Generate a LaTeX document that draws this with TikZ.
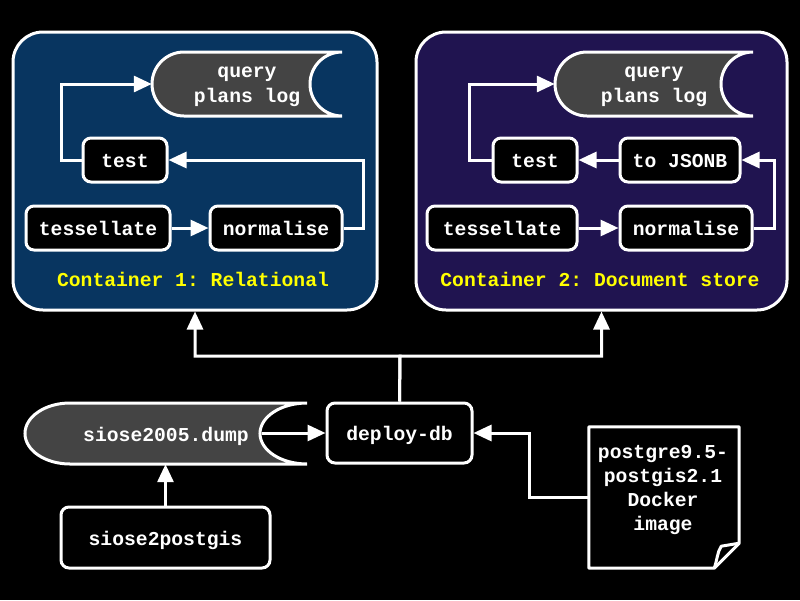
\documentclass[tikz,border=0pt]{standalone}
\usepackage{fontspec}
\newfontfamily\cf{Liberation Mono}
\usetikzlibrary{arrows.meta,calc}
\definecolor{cone}{RGB}{8,53,96}
\definecolor{ctwo}{RGB}{32,20,80}
\definecolor{loggray}{RGB}{68,68,68}
\definecolor{ylw}{RGB}{255,255,0}
\frenchspacing
\tikzset{
  every node/.style={font=\cf\bfseries\fontsize{19.7}{24.5}\selectfont, text=white, inner sep=0pt},
  container/.style={draw=white, line width=3pt, rounded corners=30pt},
  oneline/.style={text height=15.5pt, text depth=0pt},
  stepbox/.style={oneline, draw=white, fill=black, line width=3pt, rounded corners=8pt, minimum height=44pt},
  lbl/.style={text=ylw},
  conn/.style={draw=white, line width=3pt},
  arr/.style={conn, -{Triangle[length=18pt,width=16pt]}},
  logshape/.style={draw=white, fill=loggray, line width=3pt},
}
\begin{document}
\begin{tikzpicture}[x=1pt,y=-1pt]
\fill[black] (0,0) rectangle (800,600);
\useasboundingbox (0,0) rectangle (800,600);

% containers
\node[container, fill=cone, minimum width=364pt, minimum height=278pt] (c1) at (195,171) {};
\node[container, fill=ctwo, minimum width=371pt, minimum height=278pt] (c2) at (601.5,171) {};
\node[lbl] (l1) at (193,279) {Container 1: Relational};
\node[lbl] (l2) at (600,279) {Container 2: Document store};

% log shapes (container 1)
\draw[logshape] (342,52) -- (184,52) arc[start angle=270, end angle=90, x radius=32, y radius=32]
  -- (342,116) arc[start angle=90, end angle=270, x radius=32, y radius=32];
\node[minimum width=190pt, minimum height=64pt] (q1) at (247,84) {};
\node[align=center] (q1t) at (247,87) {query\\plans log};
% log shape (container 2)
\draw[logshape] (753,52) -- (587,52) arc[start angle=270, end angle=90, x radius=32, y radius=32]
  -- (753,116) arc[start angle=90, end angle=270, x radius=32, y radius=32];
\node[minimum width=198pt, minimum height=64pt] (q2) at (654,84) {};
\node[align=center] (q2t) at (654,87) {query\\plans log};

% container 1 steps
\node[stepbox, minimum width=84pt] (test1) at (125,160) {test};
\node[stepbox, minimum width=144pt] (tess1) at (98,228) {tessellate};
\node[stepbox, minimum width=132pt] (norm1) at (276,228) {normalise};
\draw[arr] (tess1) -- (norm1);
\draw[arr] (norm1.east) -- ++(20,0) |- (test1.east);
\draw[arr] (test1.west) -- ++(-20,0) |- (q1.west);

% container 2 steps
\node[stepbox, minimum width=84pt] (test2) at (535,160) {test};
\node[stepbox, minimum width=120pt] (json2) at (680,160) {to JSONB};
\node[stepbox, minimum width=150pt] (tess2) at (502,228) {tessellate};
\node[stepbox, minimum width=132pt] (norm2) at (686,228) {normalise};
\draw[arr] (tess2) -- (norm2);
\draw[arr] (norm2.east) -- ++(21,0) |- (json2.east);
\draw[arr] (json2) -- (test2);
\draw[arr] (test2.west) -- ++(-22,0) |- (q2.west);

% bottom
\node[stepbox, minimum width=145pt, minimum height=60pt] (deploy) at (399.5,433) {deploy-db};
\draw[logshape] (307,403) -- (70,403) arc[start angle=270, end angle=90, x radius=45, y radius=30.5]
  -- (307,464) arc[start angle=90, end angle=270, x radius=47, y radius=30.5];
\node[oneline, minimum width=282pt, minimum height=61pt] (dump) at (166,433.5) {siose2005.dump};
\coordinate (dumpout) at (262,433);
\node[stepbox, minimum width=209pt, minimum height=61pt] (s2p) at (165.5,537.5) {siose2postgis};

\node[minimum width=150pt, minimum height=141pt] (note) at (664,497.5) {};
\draw[conn, fill=black, line join=round] (note.north west) -- (note.north east) -- ([yshift=25pt]note.south east)
  -- ([xshift=-25pt]note.south east) -- (note.south west) -- cycle;
\draw[conn, line join=round] ([xshift=-25pt]note.south east) .. controls ([xshift=-22pt,yshift=8pt]note.south east) and ([xshift=-22pt,yshift=16pt]note.south east) .. ([xshift=-18pt,yshift=22pt]note.south east) -- ([yshift=25pt]note.south east);
\node[align=center, font=\cf\bfseries\fontsize{19.7}{23.7}\selectfont] (notetext) at (663,490) {postgre9.5-\\postgis2.1\\Docker\\image};

\coordinate (split) at (400,356);
\draw[arr] (deploy.north) -- (split) -| (c1.south);
\draw[arr] (deploy.north) -- (split) -| (c2.south);
\draw[arr] (dumpout) -- (deploy.west);
\draw[arr] (s2p.north) -- (s2p.north |- dump.south);
\draw[arr] (note.west) -- ++(-59,0) |- (deploy.east);
\end{tikzpicture}
\end{document}
